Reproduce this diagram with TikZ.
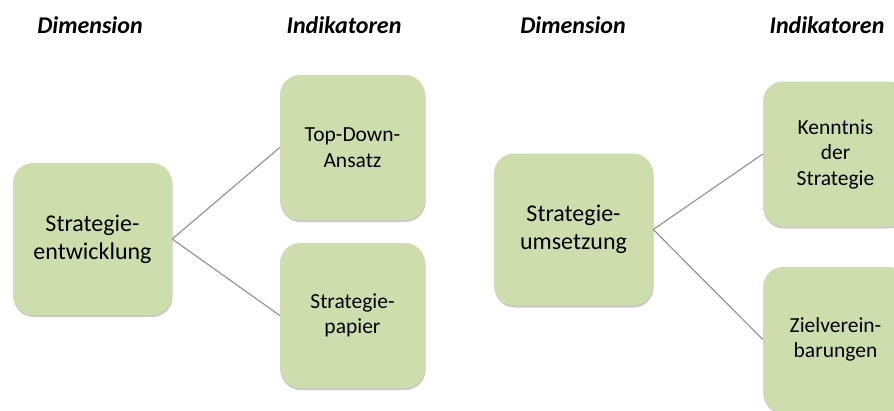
\documentclass[tikz,border=0pt]{standalone}
\usepackage{fontspec}
\setmainfont{Carlito}
\usetikzlibrary{positioning,shadows}
\definecolor{boxgreen}{RGB}{205,221,171}
\definecolor{linegray}{RGB}{150,150,150}

\begin{document}
\begin{tikzpicture}[x=1pt, y=-1pt,
  box/.style={fill=boxgreen, rounded corners=20pt, align=center,
    drop shadow={shadow xshift=0.6pt, shadow yshift=-2pt, opacity=0.3, fill=black!70}},
  dim/.style={box, minimum width=159pt, minimum height=152pt, font=\fontsize{24}{28}\selectfont},
  ind/.style={box, minimum width=145pt, minimum height=145pt, font=\fontsize{21.5}{25.5}\selectfont},
  head/.style={font=\fontsize{24}{28}\selectfont\bfseries\itshape, anchor=base},
  link/.style={draw=linegray, line width=1.2pt}]
        \useasboundingbox (0,0) rectangle (894,410);
        \clip (0,0) rectangle (894,410);
        % headers
        \node[head] (dimA) at (90,33) {Dimension};
        \node[head] (indA) at (344,33) {Indikatoren};
        \node[head] (dimB) at (573,33) {Dimension};
        \node[head] (indB) at (827,33) {Indikatoren};
        % first dimension
        \node[dim] (dev) at (92.5,239) {Strategie-\\entwicklung};
        \node[ind] (topdown) at (352.5,147.5) {Top-Down-\\Ansatz};
        \node[ind] (paper) at (352.5,315.5) {Strategie-\\papier};
        \draw[link] (dev.east) -- (topdown.west);
        \draw[link] (dev.east) -- (paper.west);
        % second dimension
        \node[dim] (impl) at (573.5,229.5) {Strategie-\\umsetzung};
        \node[ind] (know) at (835.5,154) {Kenntnis\\der\\Strategie};
        \node[ind] (goals) at (835.5,339.5) {Zielverein-\\barungen};
        \draw[link] (impl.east) -- (know.west);
        \draw[link] (impl.east) -- (goals.west);
      \end{tikzpicture}
\end{document}
